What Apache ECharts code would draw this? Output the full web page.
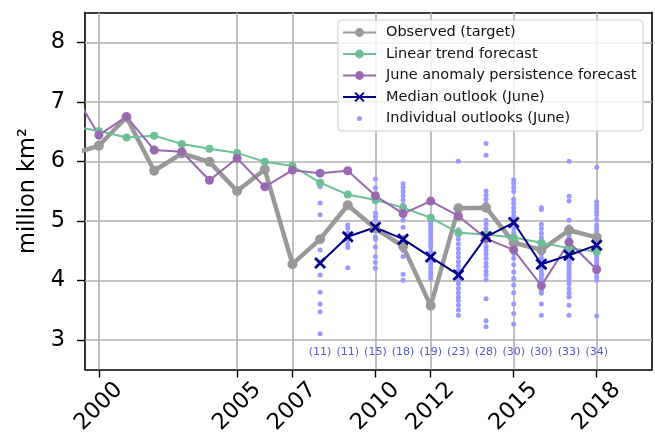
<!DOCTYPE html>
<html><head><meta charset="utf-8">
<script src="https://cdn.jsdelivr.net/npm/echarts@6/dist/echarts.min.js"></script>
<style>html,body{margin:0;padding:0;background:#fff}#c{width:655px;height:445px}</style>
</head><body><div id="c"></div>
<script>
const years = [1999,2000,2001,2002,2003,2004,2005,2006,2007,2008,2009,2010,2011,2012,2013,2014,2015,2016,2017,2018];
const observed = [6.12,6.26,6.74,5.84,6.13,5.99,5.50,5.86,4.27,4.69,5.26,4.87,4.57,3.57,5.21,5.22,4.63,4.51,4.84,4.72];
const linearTrend = [6.59,6.51,6.40,6.43,6.29,6.21,6.14,5.99,5.92,5.64,5.44,5.35,5.22,5.05,4.80,4.77,4.72,4.63,4.54,4.48];
const persistence = [7.22,6.44,6.75,6.19,6.16,5.68,6.05,5.57,5.85,5.80,5.84,5.42,5.12,5.33,5.08,4.70,4.51,3.91,4.64,4.18];
const outlookYears = [2008,2009,2010,2011,2012,2013,2014,2015,2016,2017,2018];
const medianOutlook = [4.29,4.73,4.89,4.69,4.39,4.09,4.73,4.97,4.27,4.42,4.59];
const outlookCounts = [11,11,15,18,19,23,28,30,30,33,34];
const outlooks2008 = [5.57,5.30,5.10,4.69,4.51,4.30,4.09,3.80,3.60,3.47,3.10];
const outlooks2009 = [4.93,4.88,4.80,4.76,4.74,4.73,4.70,4.68,4.60,4.55,4.21];
const outlooks2010 = [5.70,5.55,5.42,5.32,5.13,5.07,5.01,4.89,4.88,4.73,4.69,4.56,4.40,4.30,4.20];
const outlooks2011 = [5.62,5.56,5.49,5.42,5.35,5.27,5.12,5.01,4.89,4.72,4.70,4.68,4.66,4.57,4.50,4.40,4.10,4.00];
const outlooks2012 = [4.97,4.93,4.87,4.82,4.77,4.72,4.66,4.60,4.55,4.48,4.44,4.40,4.36,4.31,4.26,4.20,4.14,4.08,4.03];
const outlooks2013 = [6.00,5.05,4.85,4.76,4.69,4.61,4.53,4.46,4.39,4.31,4.24,4.17,4.12,4.09,4.01,3.94,3.86,3.79,3.72,3.66,3.58,3.50,3.41];
const outlooks2014 = [6.30,6.10,5.50,5.43,5.36,5.29,5.22,5.01,4.94,4.87,4.79,4.76,4.74,4.72,4.70,4.65,4.57,4.51,4.44,4.37,4.29,4.23,4.15,4.09,4.01,3.69,3.32,3.22];
const outlooks2015 = [5.69,5.63,5.56,5.49,5.36,5.29,5.22,5.15,5.08,5.05,5.01,3.44,4.98,4.97,4.96,4.87,4.80,4.72,4.65,4.59,4.51,4.45,4.37,4.26,4.14,4.03,3.92,3.79,3.60,3.26];
const outlooks2016 = [5.22,5.19,4.94,4.87,4.79,4.72,4.65,4.59,4.51,4.44,4.37,4.33,4.29,4.28,4.27,4.31,4.26,4.23,4.20,4.14,4.10,4.06,4.01,3.97,3.92,3.88,3.83,3.78,3.60,3.41];
const outlooks2017 = [6.00,5.41,5.33,5.01,4.90,4.85,4.80,4.75,4.70,4.65,4.62,4.58,4.55,4.50,4.47,4.45,4.42,4.40,4.37,4.33,4.28,4.23,4.17,4.12,4.09,4.04,4.01,3.94,3.86,3.79,3.72,3.58,3.41];
const outlooks2018 = [5.90,5.32,5.26,5.21,5.15,5.10,5.02,4.93,4.87,4.82,4.76,4.72,4.68,4.65,4.62,4.60,4.60,4.58,4.56,4.53,4.50,4.48,4.45,4.42,4.38,4.33,4.28,4.25,4.22,4.18,4.12,4.06,4.00,3.40];
const xTicks = [2000,2005,2007,2010,2012,2015,2018];
const yTicks = [3,4,5,6,7,8];

const individualByYear = [outlooks2008,outlooks2009,outlooks2010,outlooks2011,outlooks2012,outlooks2013,outlooks2014,outlooks2015,outlooks2016,outlooks2017,outlooks2018];
const individualPts = [];
individualByYear.forEach((arr,i)=>arr.forEach(v=>individualPts.push([outlookYears[i], v])));
const pair = (xs, ys) => xs.map((x,i)=>[x, ys[i]]);

const FONT = 'DejaVu Sans';
const COUNT_Y = 2.8;
const chart = echarts.init(document.getElementById('c'), null, {renderer:'canvas'});
const gridStyle = {color:'#b0b0b0', width:1.6, type:'solid'};
chart.setOption({
  animation:false,
  textStyle:{fontFamily:FONT},
  grid:{left:85, right:3, top:12.5, bottom:75.5},
  xAxis:[{
    type:'value', min:1999.5, max:2020,
    axisLine:{show:true, onZero:false, lineStyle:{color:'#000', width:1.6}},
    axisTick:{show:true, customValues:xTicks, length:8, lineStyle:{color:'#000', width:1.4}},
    axisLabel:{show:true, customValues:xTicks, formatter:v=>String(v), rotate:45, align:'center', verticalAlign:'middle', margin:37, fontSize:22.5, color:'#000', fontFamily:FONT},
    splitLine:{show:false}
  },{
    type:'value', position:'top', min:1999.5, max:2020,
    axisLine:{show:true, onZero:false, lineStyle:{color:'#000', width:1.6}},
    axisTick:{show:false}, axisLabel:{show:false}, splitLine:{show:false}
  }],
  yAxis:[{
    type:'value', min:2.5, max:8.5,
    name:'million km²', nameLocation:'middle', nameRotate:90, nameGap:41,
    nameTextStyle:{fontSize:22.5, color:'#000', fontFamily:FONT},
    axisLine:{show:true, onZero:false, lineStyle:{color:'#000', width:1.6}},
    axisTick:{show:true, customValues:yTicks, length:8, lineStyle:{color:'#000', width:1.4}},
    axisLabel:{show:true, customValues:yTicks, margin:20, fontSize:22.5, color:'#000', fontFamily:FONT},
    splitLine:{show:false}
  },{
    type:'value', position:'right', min:2.5, max:8.5,
    axisLine:{show:true, onZero:false, lineStyle:{color:'#000', width:1.6}},
    axisTick:{show:false}, axisLabel:{show:false}, splitLine:{show:false}
  }],
  graphic:[{type:'rect', z:100, shape:{x:338, y:20, width:305, height:111, r:4},
    style:{fill:'rgba(255,255,255,0.82)', stroke:'#d0d0d0', lineWidth:1}}],
  legend:{
    z:110, orient:'vertical', left:338, top:21, padding:[4,4,0,4],
    itemWidth:33, itemHeight:11, itemGap:6.5,
    data:['Observed (target)','Linear trend forecast','June anomaly persistence forecast','Median outlook (June)',
      {name:'Individual outlooks (June)', icon:'path://M0,0M33,0M0,11M33,11M14,5.5a2.5,2.5 0 1,0 5,0a2.5,2.5 0 1,0 -5,0Z'}],
    textStyle:{fontSize:14.5, lineHeight:15, color:'#111', fontFamily:FONT, padding:[0,0,0,5]},
    selectedMode:false
  },
  series:[
    {type:'line', name:'grid', data:[], silent:true,
     markLine:{silent:true, z:1, symbol:['none','none'], label:{show:false}, lineStyle:gridStyle, emphasis:{disabled:true},
       data:xTicks.map(v=>({xAxis:v})).concat(yTicks.map(v=>({yAxis:v})))}},
    {type:'line', name:'Observed (target)', data:pair(years, observed), clip:true,
     symbol:'circle', symbolSize:10, lineStyle:{color:'#999999', width:4.5}, itemStyle:{color:'#999999'}},
    {type:'line', name:'Linear trend forecast', data:pair(years, linearTrend), clip:true,
     symbol:'circle', symbolSize:8, lineStyle:{color:'#6dbf98', width:2}, itemStyle:{color:'#6dbf98'}},
    {type:'line', name:'June anomaly persistence forecast', data:pair(years, persistence), clip:true,
     symbol:'circle', symbolSize:9, lineStyle:{color:'#9a68b0', width:2}, itemStyle:{color:'#9a68b0'}},
    {type:'scatter', name:'Individual outlooks (June)', data:individualPts,
     symbol:'circle', symbolSize:5, itemStyle:{color:'#9999ff', opacity:1}},
    {type:'line', name:'Median outlook (June)', data:pair(outlookYears, medianOutlook),
     symbol:'path://M0,0L10,10M10,0L0,10', symbolSize:10,
     lineStyle:{color:'#00008b', width:2}, itemStyle:{color:'#00008b', borderColor:'#00008b', borderWidth:2.8}},
    {type:'scatter', name:'counts', silent:true, symbolSize:1, itemStyle:{color:'rgba(0,0,0,0)'},
     data:outlookYears.map((y,i)=>[y, COUNT_Y, outlookCounts[i]]),
     label:{show:true, position:'inside', formatter:p=>'('+p.value[2]+')', fontSize:11, color:'#2b2bbd', fontFamily:FONT}}
  ]
});
</script></body></html>
